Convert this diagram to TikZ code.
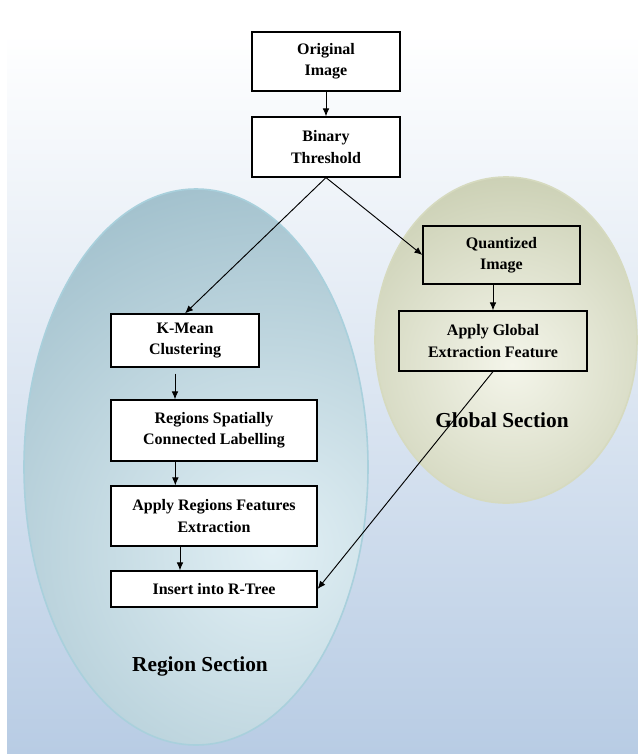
\documentclass[tikz,border=0pt]{standalone}
\usepackage{fontspec}
\setmainfont{Liberation Serif}
\usetikzlibrary{arrows.meta}
\definecolor{bgblue}{HTML}{B8CCE4}
\definecolor{regionout}{HTML}{7FA7B7}
\definecolor{regionin}{HTML}{E2F0F5}
\definecolor{regionrim}{HTML}{A9D0DC}
\definecolor{globalout}{HTML}{B2B993}
\definecolor{globalin}{HTML}{F4F5EA}
\definecolor{globalrim}{HTML}{D6DABF}
\begin{document}
\begin{tikzpicture}[x=0.75pt, y=-0.75pt,
        box/.style = {draw, line width=0.9pt, fill=white, align=center, inner sep=0pt,
                      font=\bfseries\fontsize{12}{16}\selectfont},
        glbox/.style = {box, fill=none},
        flow/.style = {-{Latex[length=6pt,width=5pt]}, line width=0.7pt},
        section/.style = {font=\bfseries\fontsize{16}{18}\selectfont}]
    \useasboundingbox (0,0) rectangle (638,754);
    \shade[top color=white, bottom color=bgblue] (7,33) rectangle (638,754);
    \begin{scope}
        \clip (196,467) ellipse [x radius=129pt, y radius=208.5pt];
        \shade[inner color=regionin, outer color=regionout] (272,550) circle (440pt);
    \end{scope}
    \draw[regionrim, line width=1.2pt] (196,467) ellipse [x radius=129pt, y radius=208.5pt];
    \begin{scope}
        \clip (506,340) ellipse [x radius=98.25pt, y radius=122.25pt];
        \shade[inner color=globalin, outer color=globalout] (512,365) circle (235pt);
    \end{scope}
    \draw[globalrim, line width=1.2pt] (506,340) ellipse [x radius=98.25pt, y radius=122.25pt];

    \node (orig) [box, minimum width=111pt, minimum height=44.25pt] at (326,61.5) {Original\\Image};
    \node (binary) [box, minimum width=111pt, minimum height=45pt] at (326,147) {Binary\\Threshold};
    \node (kmean) [box, minimum width=111pt, minimum height=39.75pt] at (185,340.5) {K-Mean\\Clustering};
    \node (spatial) [box, minimum width=154.5pt, minimum height=45.75pt] at (214,430.5) {Regions Spatially\\Connected Labelling};
    \node (features) [box, minimum width=154.5pt, minimum height=45pt] at (214,516) {Apply Regions Features\\Extraction};
    \node (rtree) [box, minimum width=154.5pt, minimum height=27pt] at (214,589) {Insert into R-Tree};
    \node (quant) [glbox, minimum width=117.75pt, minimum height=43.5pt] at (501.5,255) {Quantized\\Image};
    \node (global) [glbox, minimum width=141pt, minimum height=45pt] at (493,341) {Apply Global\\Extraction Feature};
    \node (gsec) [section] at (502,420) {Global Section};
    \node (rsec) [section] at (200,666) {Region Section};

    \draw[flow] (orig) -- (binary);
    \draw[flow] (binary.south) -- (kmean.north);
    \draw[flow] (binary.south) -- (quant.west);
    \draw[flow] (global.north |- quant.south) -- (global.north);
    \draw[flow] ([xshift=-7.5pt,yshift=-4.5pt]kmean.south) -- ([xshift=-7.5pt]kmean.south |- spatial.north);
    \draw[flow] ([xshift=-29pt]spatial.south) -- ([xshift=-29pt]spatial.south |- features.north);
    \draw[flow] ([xshift=-25.5pt]features.south) -- ([xshift=-25.5pt]features.south |- rtree.north);
    \draw[flow] (global.south) -- (rtree.east);
\end{tikzpicture}
\end{document}
